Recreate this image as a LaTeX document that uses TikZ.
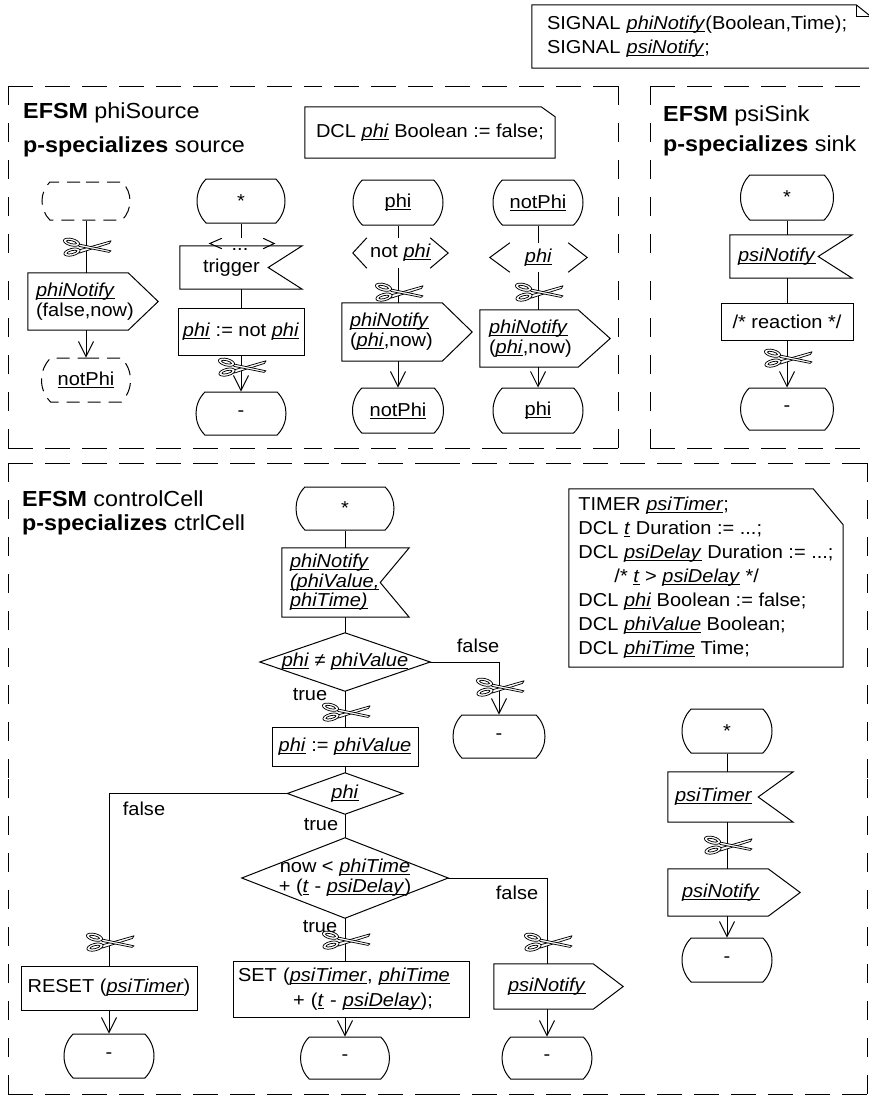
\documentclass[tikz,border=0pt]{standalone}
\usepackage{fontspec}
\setmainfont[FakeStretch=1.07]{Liberation Sans}
\usetikzlibrary{arrows.meta,shapes.misc,calc}
\newcommand\bodyf{\fontsize{18.7}{24}\selectfont}
\newcommand\tightf{\fontsize{18.7}{20}\selectfont}
\newcommand\titlef{\fontsize{21.8}{26}\selectfont}
\newcommand\vn[1]{\leavevmode\setbox0\hbox{\textit{#1}}\rlap{\rule[-2.4pt]{\wd0}{0.9pt}}\box0\relax}
\newcommand\un[1]{\leavevmode\setbox0\hbox{#1}\rlap{\rule[-2.4pt]{\wd0}{0.9pt}}\box0\relax}
\newcommand\outshape[2]{\draw[ln] (#1.north west) -- (#1.north east) -- ([xshift=#2]#1.east) -- (#1.south east) -- (#1.south west) -- cycle;}
\newcommand\inshape[2]{\draw[ln] (#1.north west) -- (#1.north east) -- ([xshift=-#2]#1.east) -- (#1.south east) -- (#1.south west) -- cycle;}
\newcommand\diashape[1]{\draw[ln] (#1.west) -- (#1.north) -- (#1.east) -- (#1.south) -- cycle;}
\newcommand\chev[3]{\draw[ln] ([xshift=#2]#1.north west) -- (#1.west) -- ([xshift=#2]#1.south west);
  \draw[ln] ([xshift=-#3]#1.north east) -- (#1.east) -- ([xshift=-#3]#1.south east);}
\newcommand\noteshape[3]{\draw[ln] (#1.south west) -- (#1.north west) -- ([xshift=-#2]#1.north east) -- ([yshift=-#3]#1.north east) -- (#1.south east) -- cycle;}
\tikzset{
  ln/.style={line width=1pt, line join=miter},
  every node/.style={inner sep=0pt, font=\bodyf},
  st/.style 2 args={rounded rectangle, rounded rectangle arc length=90, draw, line width=1pt, minimum width=#1, minimum height=#2},
  dst/.style 2 args={st={#1}{#2}, dash pattern=on 13pt off 8pt},
  bx/.style 2 args={minimum width=#1, minimum height=#2},
  task/.style 2 args={draw, line width=1pt, minimum width=#1, minimum height=#2},
  lb/.style n args={3}{text width=#1, inner xsep=#2, minimum height=#3, align=left},
  arr/.style={ln, -{Straight Barb[length=15pt,width=15pt]}},
  fh/.style={line width=1pt, dash pattern=on 25pt off 12pt},
  fv/.style={line width=1pt, dash pattern=on 19pt off 18pt},
  ttl/.style={anchor=base west, font=\titlef},
  scis/.pic={
    \begin{scope}[line width=0.75pt, line join=round]
      \filldraw[fill=white] (-8,3.2) -- (25,-6.2) -- (23.5,-3.6) -- (-6.5,6) -- cycle;
      \filldraw[fill=white] (-8,-3.2) -- (25,3.8) -- (23,5.4) -- (-7,-0.6) -- cycle;
      \filldraw[fill=white] (-14.5,-4.8) ellipse [x radius=8.3, y radius=3.7, rotate=-14];
      \filldraw[fill=white] (-14,5.1) ellipse [x radius=8.3, y radius=3.7, rotate=14];
      \draw[fill=white] (-14.5,-4.8) ellipse [x radius=5.2, y radius=1.5, rotate=-14];
      \draw[fill=white] (-14,5.1) ellipse [x radius=5.2, y radius=1.5, rotate=14];
    \end{scope}
  },
}
\begin{document}
\begin{tikzpicture}[x=1pt,y=-1pt]
\useasboundingbox (0,0) rectangle (869,1096);
\fill[white] (0,0) rectangle (869,1096);
\clip (0,0) rectangle (869,1096);

% ---------- signal note ----------
\node[lb={309pt}{15pt}{63pt}] (sig) at (701.5,36.5) {SIGNAL \vn{phiNotify}(Boolean,Time);\\SIGNAL \vn{psiNotify};};
\noteshape{sig}{15pt}{12pt}
\draw[ln] ([xshift=-15pt]sig.north east) |- ([yshift=-12pt]sig.north east);

% ---------- frames ----------
\draw[fh] (8,86) -- (313,86);   \draw[fh] (618,86) -- (313,86);
\draw[fh] (8,448) -- (313,448); \draw[fh] (618,448) -- (313,448);
\draw[fv] (8,86) -- (8,267);    \draw[fv] (8,448) -- (8,267);
\draw[fv] (618,86) -- (618,267); \draw[fv] (618,448) -- (618,267);

\draw[fh] (650,86) -- (880,86); \draw[fh] (650,448) -- (880,448);
\draw[fv] (650,86) -- (650,267); \draw[fv] (650,448) -- (650,267);

\draw[fh] (8,463) -- (437.5,463); \draw[fh] (867,463) -- (437.5,463);
\draw[fh] (8,1094) -- (437.5,1094); \draw[fh] (867,1094) -- (437.5,1094);
\draw[fv] (8,463) -- (8,778.5); \draw[fv] (8,1094) -- (8,778.5);
\draw[fv] (867,463) -- (867,778.5); \draw[fv] (867,1094) -- (867,778.5);

% ---------- phiSource ----------
\node[ttl] (ttl1) at (23,118.5) {\textbf{EFSM} phiSource};
\node[ttl] (ttl2) at (23,152.5) {\textbf{p-specializes} source};
\node[bx={250pt}{51pt}] (dcl) at (430,132.5) {DCL \vn{phi} Boolean := false;};
\noteshape{dcl}{14pt}{10pt}

% column 1
\node[dst={88pt}{38pt}] (sd1) at (86,201) {};
\node[lb={84pt}{8pt}{57pt}, font=\tightf] (out1) at (78,301.5) {\vn{phiNotify}\\(false,now)};
\outshape{out1}{30pt}
\node[dst={89pt}{44pt}] (sd2) at (86,380) {\un{notPhi}};
\draw[ln] (sd1.south) -- (sd1.south |- out1.north);
\draw[arr] (out1.south -| sd2.north) -- (sd2.north);
\pic (c1) at (86,247) {scis};

% column 2
\node[st={88pt}{44pt}] (s2) at (241,201) {*};
\node[bx={64pt}{10pt}] (cs2) at (242,243.5) {};
\chev{cs2}{12pt}{11pt}
\node (dots) at (240,249) {...};
\node[lb={76pt}{23pt}{43pt}] (in2) at (241,267.5) {trigger};
\inshape{in2}{34pt}
\node[task={126pt}{47pt}] (t2) at (241,331.5) {\vn{phi} := not \vn{phi}};
\node[st={90pt}{43pt}] (s2e) at (241,413.5) {-};
\draw[ln] (s2.south) -- (s2.south |- cs2.north);
\draw[ln] (in2.south) -- (t2.north);
\draw[arr] (t2.south) -- (s2e.north);
\pic (c2) at (241,367) {scis};

% column 3
\node[st={90pt}{45pt}] (s3) at (398,202.5) {\un{phi}};
\node[bx={95pt}{30pt}] (cs3) at (400.5,253) {not \vn{phi}};
\chev{cs3}{14pt}{18pt}
\node[lb={84pt}{8pt}{58pt}, font=\tightf] (o3) at (392,332) {\vn{phiNotify}\\(\vn{phi},now)};
\outshape{o3}{30pt}
\node[st={91pt}{45pt}] (s3e) at (398,410.5) {\un{notPhi}};
\draw[ln] (s3.south) -- (s3.south |- cs3.north);
\draw[ln] (s3.south |- cs3.south) -- (s3.south |- o3.north);
\draw[arr] (s3.south |- o3.south) -- (s3e.north);
\pic (c3) at (398,292) {scis};

% column 4
\node[st={90pt}{45pt}] (s4) at (538,202.5) {\un{notPhi}};
\node[bx={97pt}{29pt}] (cs4) at (538.5,257.5) {\vn{phi}};
\chev{cs4}{20pt}{19pt}
\node[lb={80pt}{9pt}{57pt}, font=\tightf] (o4) at (529,338.5) {\vn{phiNotify}\\(\vn{phi},now)};
\outshape{o4}{32pt}
\node[st={90pt}{45pt}] (s4e) at (538,410.5) {\un{phi}};
\draw[ln] (s4.south) -- (s4.south |- cs4.north);
\draw[ln] (s4.south |- cs4.south) -- (s4.south |- o4.north);
\draw[arr] (s4.south |- o4.south) -- (s4e.north);
\pic (c4) at (538,292) {scis};

% ---------- psiSink ----------
\node[ttl] (ttl3) at (663,121.5) {\textbf{EFSM} psiSink};
\node[ttl] (ttl4) at (663,151.5) {\textbf{p-specializes} sink};
\node[st={93pt}{45pt}] (s5) at (787,197.5) {*};
\node[lb={106pt}{8pt}{43pt}] (in5) at (791,256.5) {\vn{psiNotify}};
\inshape{in5}{34pt}
\node[task={132pt}{37pt}] (t5) at (787,321.5) {/* reaction */};
\node[st={93pt}{42pt}] (s5e) at (787,409) {-};
\draw[ln] (s5.south) -- (s5.south |- in5.north);
\draw[ln] (s5.south |- in5.south) -- (t5.north);
\draw[arr] (t5.south) -- (s5e.north);
\pic (c5) at (787,358) {scis};

% ---------- controlCell ----------
\node[ttl] (ttl5) at (22,506.5) {\textbf{EFSM} controlCell};
\node[ttl] (ttl6) at (22,530.5) {\textbf{p-specializes} ctrlCell};

\node[st={98pt}{43pt}] (s6) at (345,508.5) {*};
\node[lb={111pt}{8pt}{69pt}, font=\fontsize{18.7}{19.5}\selectfont] (in6) at (345.5,582.5) {\vn{phiNotify}\\\vn{(phiValue,}\\\vn{phiTime)}};
\inshape{in6}{29pt}
\node[bx={170pt}{58pt}] (d1) at (345,662) {\vn{phi} ≠ \vn{phiValue}};
\diashape{d1}
\node (f1) at (478,646) {false};
\node[st={92pt}{43pt}] (s6e) at (499,736.5) {-};
\node (tr1) at (310,695) {true};
\node[task={146pt}{39pt}] (t6) at (345,746.5) {\vn{phi} := \vn{phiValue}};
\node[bx={115pt}{41pt}] (d2) at (345,793.5) {\vn{phi}};
\diashape{d2}
\node (tr2) at (321,825) {true};
\node (f2) at (144,809) {false};
\node[task={176pt}{44pt}] (t7) at (109,988) {RESET (\vn{psiTimer})};
\node[st={90pt}{44pt}] (s7) at (109,1056) {-};
\node[bx={206pt}{80pt}, align=center, font=\tightf] (d3) at (345,878) {now < \vn{phiTime}\\+ (\vn{t} - \vn{psiDelay})};
\diashape{d3}
\node (tr3) at (320,927) {true};
\node[draw, line width=1pt, lb={226pt}{5pt}{56pt}, font=\fontsize{18.7}{25}\selectfont] (t8) at (351,989) {SET (\vn{psiTimer}, \vn{phiTime}\\\hspace*{55pt}+ (\vn{t} - \vn{psiDelay});};
\node[st={89pt}{42pt}] (s8) at (345,1058) {-};
\node (f3) at (517,893) {false};
\node[lb={71pt}{14pt}{45pt}] (o9) at (543.5,986.5) {\vn{psiNotify}};
\outshape{o9}{30pt}
\node[st={90pt}{42pt}] (s9) at (547,1058) {-};

\draw[ln] (s6.south) -- (s6.south |- in6.north);
\draw[ln] (s6.south |- in6.south) -- (d1.north);
\draw[arr] (d1.east) -| (s6e.north);
\draw[ln] (d1.south) -- (t6.north);
\draw[ln] (t6.south) -- (d2.north);
\draw[ln] (d2.west) -| (t7.north);
\draw[arr] (t7.south) -- (s7.north);
\draw[ln] (d2.south) -- (d3.north);
\draw[ln] (d3.south) -- (d3.south |- t8.north);
\draw[arr] (s8.north |- t8.south) -- (s8.north);
\draw[ln] (d3.east) -| (s9.north |- o9.north);
\draw[arr] (s9.north |- o9.south) -- (s9.north);

\pic (c6b) at (499,687) {scis};
\pic (c6) at (345,712) {scis};
\pic (c7) at (109,942) {scis};
\pic (c8) at (345,940) {scis};
\pic (c9) at (547,942) {scis};

% timer note
\node[bx={274pt}{178pt}, align=left] (tn) at (706,578) {TIMER \vn{psiTimer};\\DCL \vn{t} Duration := ...;\\DCL \vn{psiDelay} Duration := ...;\\\hspace*{36pt}/* \vn{t} > \vn{psiDelay} */\\DCL \vn{phi} Boolean := false;\\DCL \vn{phiValue} Boolean;\\DCL \vn{phiTime} Time;};
\noteshape{tn}{30pt}{36pt}

% timer column
\node[st={90pt}{44pt}] (s10) at (727,731) {*};
\node[lb={111pt}{7pt}{50pt}] (in10) at (730.5,797) {\vn{psiTimer}};
\inshape{in10}{35pt}
\node[lb={72pt}{14pt}{47pt}] (o10) at (718,892.5) {\vn{psiNotify}};
\outshape{o10}{32pt}
\node[st={90pt}{44pt}] (s10e) at (727,960) {-};
\draw[ln] (s10.south) -- (s10.south |- in10.north);
\draw[ln] (s10.south |- in10.south) -- (s10.south |- o10.north);
\draw[arr] (s10.south |- o10.south) -- (s10e.north);
\pic (c10) at (727,845) {scis};
\end{tikzpicture}
\end{document}
